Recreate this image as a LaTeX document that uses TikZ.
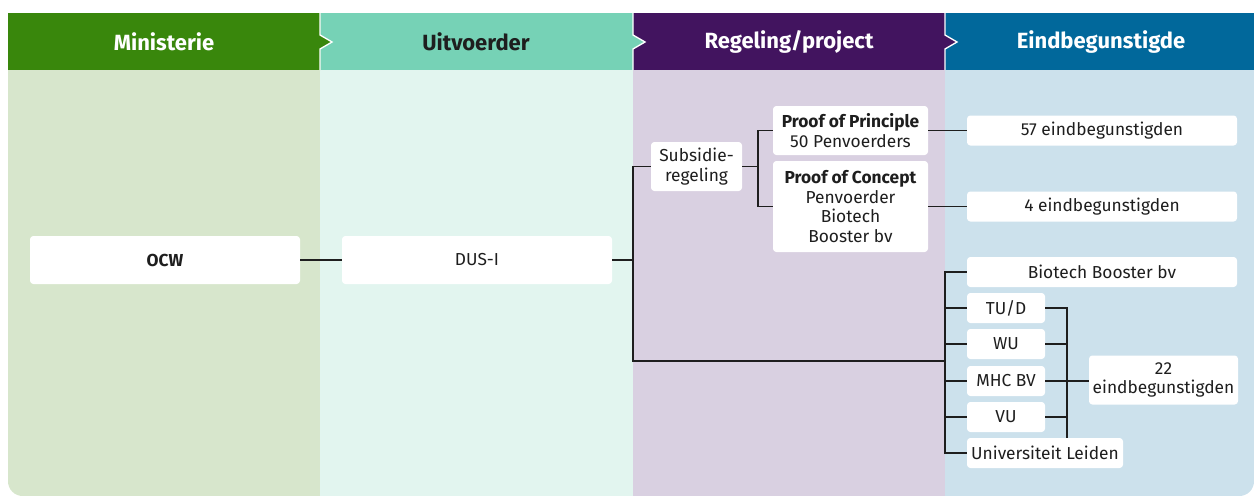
\documentclass[tikz,border=0pt]{standalone}
\usepackage{fontspec}
\setmainfont{Fira Sans}
\definecolor{minkop}{HTML}{39870C}
\definecolor{minlicht}{HTML}{D7E6CC}
\definecolor{uitkop}{HTML}{76D2B6}
\definecolor{uitlicht}{HTML}{E2F5EF}
\definecolor{regkop}{HTML}{42145F}
\definecolor{reglicht}{HTML}{D9D0E1}
\definecolor{eindkop}{HTML}{01689B}
\definecolor{eindlicht}{HTML}{CCE1EC}
\definecolor{inkt}{HTML}{1E1E1E}
\begin{document}
\begin{tikzpicture}[x=0.75pt,y=-0.75pt,
    vak/.style={fill=white,rounded corners=2.5pt,inner sep=0pt,align=center,
        text=inkt,font=\fontsize{13}{14.6}\selectfont},
    kop/.style={font=\fontsize{16.5}{18}\selectfont\bfseries},
    lijn/.style={line width=0.9pt,draw=inkt}]
\useasboundingbox (0,0) rectangle (1254,496);

% kolommen en koppen
\begin{scope}
\clip[rounded corners=11pt] (8,-30) rectangle (1254,496);
\fill[minlicht] (8,70) rectangle (320,496);
\fill[uitlicht] (320,70) rectangle (633,496);
\fill[reglicht] (633,70) rectangle (945,496);
\fill[eindlicht] (945,70) rectangle (1254,496);
\fill[minkop] (8,13) rectangle (320,70);
\fill[uitkop] (320,13) rectangle (633,70);
\fill[regkop] (633,13) rectangle (945,70);
\fill[eindkop] (945,13) rectangle (1254,70);
\foreach \x/\c in {320/minkop,633/uitkop,945/regkop}
    \filldraw[fill=\c,draw=white,line width=1pt] (\x,13) -- (\x,35) -- (\x+12,42) -- (\x,49) -- (\x,70);
\end{scope}
\node[kop,text=white] (hmin) at (164,42) {Ministerie};
\node[kop,text=inkt] (huit) at (476,42) {Uitvoerder};
\node[kop,text=white] (hreg) at (789,42) {Regeling/project};
\node[kop,text=white] (heind) at (1101,42) {Eindbegunstigde};

% vakken
\node[vak,minimum width=202.5pt,minimum height=36pt] (ocw) at (165,260) {\textbf{OCW}};
\node[vak,minimum width=202.5pt,minimum height=36pt] (dusi) at (477,260) {DUS-I};
\node[vak,minimum width=68.25pt,minimum height=36.75pt] (subs) at (696.5,166.5) {Subsidie-\\regeling};
\node[vak,minimum width=116.25pt,minimum height=36.75pt] (pop) at (850.5,130.5) {\textbf{Proof of Principle}\\50 Penvoerders};
\node[vak,minimum width=116.25pt,minimum height=68.25pt] (poc) at (850.5,206.5) {\textbf{Proof of Concept}\\Penvoerder\\Biotech\\Booster bv};
\node[vak,minimum width=202.5pt,minimum height=22.5pt] (e57) at (1102,130.5) {57 eindbegunstigden};
\node[vak,minimum width=202.5pt,minimum height=22.5pt] (e4) at (1102,206.5) {4 eindbegunstigden};
\node[vak,minimum width=202.5pt,minimum height=22.5pt] (bbv) at (1102,272) {Biotech Booster bv};
\node[vak,minimum width=58.5pt,minimum height=22.5pt] (tud) at (1006,308) {TU/D};
\node[vak,minimum width=58.5pt,minimum height=22.5pt] (wu) at (1006,344) {WU};
\node[vak,minimum width=58.5pt,minimum height=22.5pt] (mhc) at (1006,381) {MHC BV};
\node[vak,minimum width=58.5pt,minimum height=22.5pt] (vu) at (1006,417) {VU};
\node[vak,minimum width=117pt,minimum height=22.5pt] (leiden) at (1045,453) {Universiteit Leiden};
\node[vak,minimum width=111.75pt,minimum height=36.75pt] (e22) at (1163.5,380) {22\\eindbegunstigden};

% verbindingen
\coordinate (sp) at (633,260);
\coordinate (sp2) at (758,166.5);
\coordinate (bus) at (945,361);
\coordinate (rb) at (1067,381);
\draw[lijn] (ocw) -- (dusi);
\draw[lijn] (dusi.east) -- (sp);
\draw[lijn] (subs.west) -| (sp) |- (bus);
\draw[lijn] (subs.east) -- (sp2);
\draw[lijn] (pop.west) -| (sp2) |- (poc.west);
\draw[lijn] (pop.east) -- (e57.west);
\draw[lijn] (poc.east) -- (e4.west);
\draw[lijn] (bbv.west) -| (bus) |- (leiden.west);
\foreach \n in {tud,wu,mhc,vu}
    \draw[lijn] (\n.west) -- (\n.west -| bus);
\draw[lijn] (tud.east) -| (rb |- leiden.north);
\foreach \n in {wu,mhc,vu}
    \draw[lijn] (\n.east) -- (\n.east -| rb);
\draw[lijn] (rb) -- (rb -| e22.west);
\end{tikzpicture}
\end{document}
